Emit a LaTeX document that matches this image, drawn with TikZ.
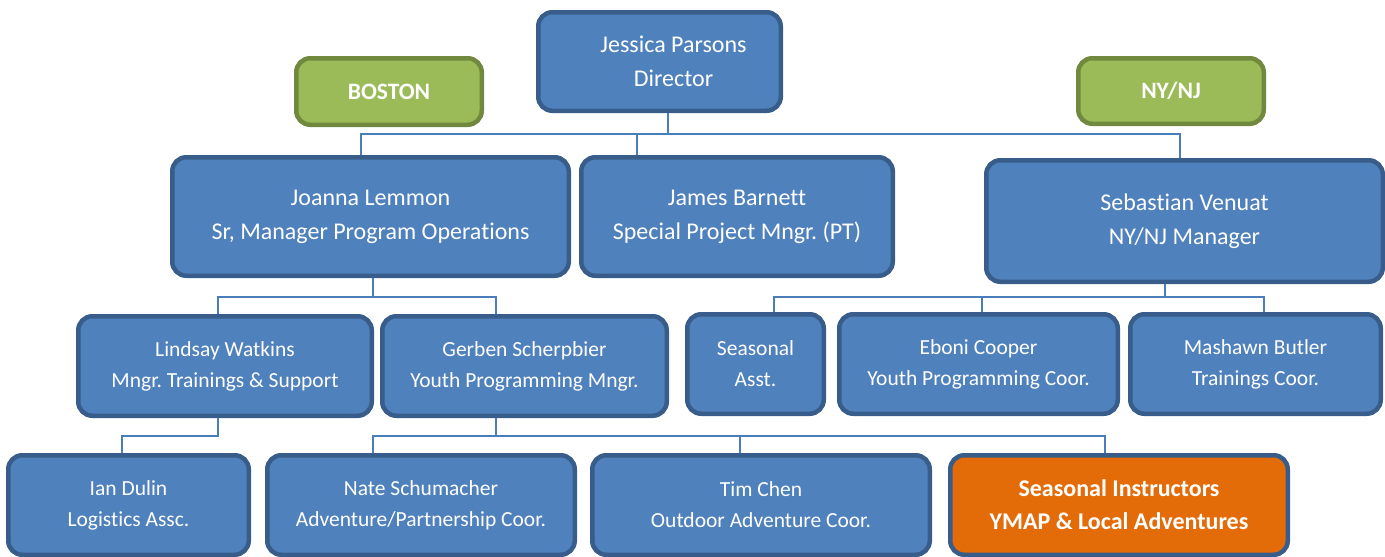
\documentclass[tikz,border=0pt]{standalone}
\usepackage{fontspec}
\setmainfont[Ligatures=NoCommon]{Carlito}
\definecolor{bfill}{HTML}{4F81BD}
\definecolor{bdraw}{HTML}{385D8A}
\definecolor{gfill}{HTML}{9BBB59}
\definecolor{gdraw}{HTML}{71893F}
\definecolor{ofill}{HTML}{E36C09}
\definecolor{lcol}{HTML}{4A7EBB}
\tikzset{
  box/.style={draw=bdraw, fill=bfill, line width=4.5pt, rounded corners=14pt, text=white, align=center, inner sep=0pt},
  big/.style={box, font=\fontsize{24}{34}\selectfont},
  small/.style={box, font=\fontsize{21.5}{31}\selectfont},
  green/.style={box, draw=gdraw, fill=gfill, font=\fontsize{23.5}{28}\selectfont\bfseries},
  orange/.style={box, fill=ofill, font=\fontsize{24}{33}\selectfont\bfseries},
  conn/.style={draw=lcol, line width=1.6pt},
}
\newcommand{\bx}[7]{% style, name, x1,y1,x2,y2, text
  \node[#1, minimum width={#5-#3-4.5}, minimum height={#6-#4-4.5}] (#2) at ({(#3+#5)/2},{(#4+#6)/2}) {#7};}
\begin{document}
\frenchspacing
\begin{tikzpicture}[x=1pt,y=-1pt]
\useasboundingbox (0,0) rectangle (1385,557);
\bx{big}{jp}{536}{10}{783}{113}{\hspace*{28pt}Jessica Parsons\\\hspace*{28pt}Director}
\bx{green}{bos}{294}{56}{484}{127}{BOSTON}
\bx{green}{ny}{1076}{56}{1266}{126}{NY/NJ}
\bx{big}{jl}{170}{155}{571}{278}{Joanna Lemmon\\Sr, Manager Program Operations}
\bx{big}{jb}{579}{155}{895}{278}{James Barnett\\Special Project Mngr. (PT)}
\bx{big}{sv}{984}{158}{1385}{284}{Sebastian Venuat\\NY/NJ Manager}
\bx{small}{lw}{76}{314}{374}{418}{Lindsay Watkins\\Mngr. Trainings \& Support}
\bx{small}{gs}{380}{314}{669}{418}{Gerben Scherpbier\\Youth Programming Mngr.}
\bx{small}{sa}{685}{312}{826}{416}{Seasonal\\Asst.}
\bx{small}{ec}{837}{312}{1120}{416}{Eboni Cooper\\Youth Programming Coor.}
\bx{small}{mb}{1128}{312}{1383}{416}{Mashawn Butler\\Trainings Coor.}
\bx{small}{id}{6}{453}{251}{557}{Ian Dulin\\Logistics Assc.}
\bx{small}{ns}{265}{453}{577}{557}{Nate Schumacher\\Adventure/Partnership Coor.}
\bx{small}{tc}{590}{453}{932}{557}{Tim Chen\\Outdoor Adventure Coor.}
\bx{orange}{si}{948}{453}{1290}{557}{Seasonal Instructors\\YMAP \& Local Adventures}
% buses
\coordinate (bA) at (0,134);
\coordinate (bB) at (0,297);
\coordinate (bC) at (0,436);
\draw[conn] ([xshift=8.5pt]jp.south) -- ([xshift=8.5pt]jp.south |- bA);
\draw[conn] ([xshift=-9.5pt]jl.north) -- ([xshift=-9.5pt]jl.north |- bA) -- ([xshift=-4.5pt]sv.north |- bA) -- ([xshift=-4.5pt]sv.north);
\draw[conn] ([xshift=-100pt]jb.north) -- ([xshift=-100pt]jb.north |- bA);
% Boston level 2
\draw[conn] ([xshift=2.5pt]jl.south) -- ([xshift=2.5pt]jl.south |- bB);
\draw[conn] ([xshift=-7pt]lw.north) -- ([xshift=-7pt]lw.north |- bB) -- ([xshift=-28.5pt]gs.north |- bB) -- ([xshift=-28.5pt]gs.north);
% NY level 2
\draw[conn] ([xshift=-19.5pt]sv.south) -- ([xshift=-19.5pt]sv.south |- bB);
\draw[conn] ([xshift=18.5pt]sa.north) -- ([xshift=18.5pt]sa.north |- bB) -- ([xshift=8.5pt]mb.north |- bB) -- ([xshift=8.5pt]mb.north);
\draw[conn] ([xshift=3.5pt]ec.north) -- ([xshift=3.5pt]ec.north |- bB);
% level 3
\draw[conn] ([xshift=-7pt]lw.south) -- ([xshift=-7pt]lw.south |- bC) -- ([xshift=-6.5pt]id.north |- bC) -- ([xshift=-6.5pt]id.north);
\draw[conn] ([xshift=-28.5pt]gs.south) -- ([xshift=-28.5pt]gs.south |- bC);
\draw[conn] ([xshift=-48pt]ns.north) -- ([xshift=-48pt]ns.north |- bC) -- ([xshift=-14pt]si.north |- bC) -- ([xshift=-14pt]si.north);
\draw[conn] ([xshift=-21pt]tc.north) -- ([xshift=-21pt]tc.north |- bC);
\end{tikzpicture}
\end{document}
